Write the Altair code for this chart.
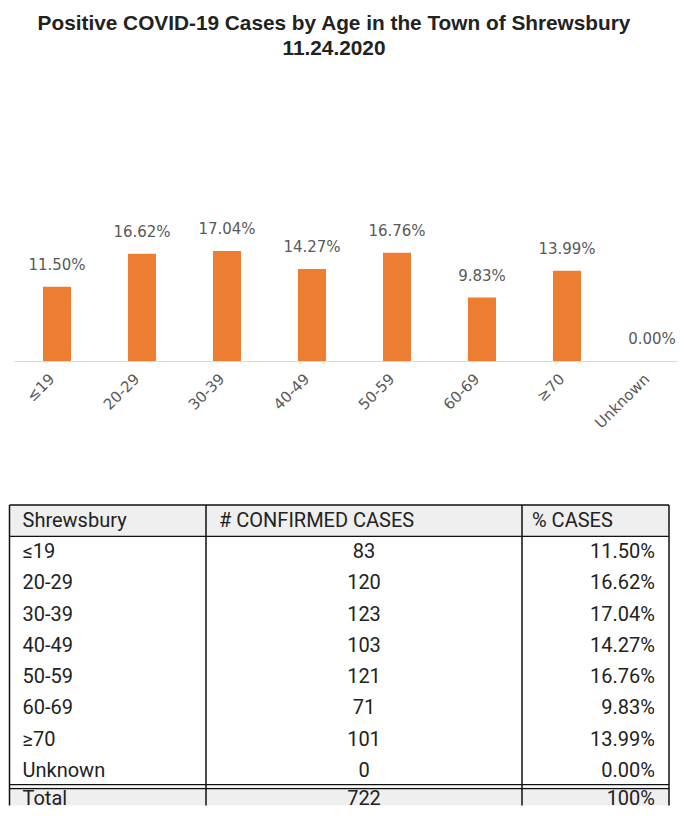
import altair as alt
import pandas as pd

# ---------------- data ----------------
TITLE_LINES = ["Positive COVID-19 Cases by Age in the Town of Shrewsbury", "11.24.2020"]
AGE_GROUPS = ["≤19", "20-29", "30-39", "40-49", "50-59", "60-69", "≥70", "Unknown"]
CONFIRMED = [83, 120, 123, 103, 121, 71, 101, 0]
PCT_CASES = [11.50, 16.62, 17.04, 14.27, 16.76, 9.83, 13.99, 0.00]
TABLE_HEADER = ["Shrewsbury", "# CONFIRMED CASES", "% CASES"]
TOTAL_ROW = ["Total", "722", "100%"]

# ---------------- layout / style constants ----------------
ORANGE = "#ED7D31"
GRAY_TXT = "#595959"
TABLE_TXT = "#222222"
CELL_BG = "#efefef"
LINE_COLOR = "#111111"
LABEL_FONT = "DejaVu Sans"

AXIS_GUTTER = 6
BAR_PLOT_W = 664
PX_PER_PCT = 6.455
Y_MAX = 22
BAR_PLOT_H = Y_MAX * PX_PER_PCT

TABLE_W = 662
COL_EDGES = [1.5, 198, 514, 661]
CELL_PAD = 13
ROW_H = 31.3
ROWS_VISIBLE = 9.6
TOTAL_TEXT_ROW = 9.38
DOUBLE_GAP = 0.064

# ---------------- bar chart ----------------
bar_df = pd.DataFrame({
    "age": AGE_GROUPS,
    "pct": PCT_CASES,
    "label": [f"{v:.2f}%" for v in PCT_CASES],
})

base = alt.Chart(bar_df).encode(
    x=alt.X(
        "age:N", sort=AGE_GROUPS,
        scale=alt.Scale(paddingInner=0.67, paddingOuter=0.241, align=0.707),
        axis=alt.Axis(title=None, labelAngle=-45, labelFont=LABEL_FONT, labelFontSize=15,
                      labelColor=GRAY_TXT, domainColor="#d9d9d9", domainWidth=1,
                      ticks=False, labelPadding=10, labelOffset=-10),
    ),
    y=alt.Y(
        "pct:Q",
        scale=alt.Scale(domain=[0, Y_MAX], nice=False),
        axis=alt.Axis(title=None, labels=False, ticks=False, domain=False, grid=False,
                      minExtent=AXIS_GUTTER, maxExtent=AXIS_GUTTER),
    ),
)
bars = base.mark_bar(color=ORANGE)
bar_labels = base.mark_text(baseline="bottom", dy=-14, font=LABEL_FONT, fontSize=15,
                            color=GRAY_TXT).encode(text="label:N")
bar_chart = (bars + bar_labels).properties(width=BAR_PLOT_W, height=BAR_PLOT_H)

# ---------------- table ----------------
first_col = [TABLE_HEADER[0]] + AGE_GROUPS + [TOTAL_ROW[0]]
col2_vals = [str(v) for v in CONFIRMED] + [TOTAL_ROW[1]]
col3_vals = [f"{v:.2f}%" for v in PCT_CASES] + [TOTAL_ROW[2]]
n_rows = len(first_col)


def row_center(i):
    return TOTAL_TEXT_ROW if i == n_rows - 1 else i + 0.5


cells = []
for i, t in enumerate(first_col):
    cells.append({"row": row_center(i), "x": COL_EDGES[0] + CELL_PAD, "text": t, "al": "left"})
cells.append({"row": 0.5, "x": COL_EDGES[1] + CELL_PAD, "text": TABLE_HEADER[1], "al": "left"})
cells.append({"row": 0.5, "x": COL_EDGES[2] + CELL_PAD - 3, "text": TABLE_HEADER[2], "al": "left"})
for i, t in enumerate(col2_vals):
    cells.append({"row": row_center(i + 1), "x": (COL_EDGES[1] + COL_EDGES[2]) / 2,
                  "text": t, "al": "center"})
for i, t in enumerate(col3_vals):
    cells.append({"row": row_center(i + 1), "x": COL_EDGES[3] - CELL_PAD - 1,
                  "text": t, "al": "right"})
cells_df = pd.DataFrame(cells)

# the table's origin sits AXIS_GUTTER px right of the page edge (aligned with the bar plot)
xs = alt.Scale(domain=[AXIS_GUTTER, TABLE_W + AXIS_GUTTER], nice=False, zero=False)
ys = alt.Scale(domain=[0, ROWS_VISIBLE], nice=False, zero=False, reverse=True)

bg_df = pd.DataFrame({
    "x1": [COL_EDGES[0], COL_EDGES[0]], "x2": [COL_EDGES[3], COL_EDGES[3]],
    "y1": [0, n_rows - 1], "y2": [1, ROWS_VISIBLE],
})
bg = alt.Chart(bg_df).mark_rect(color=CELL_BG).encode(
    x=alt.X("x1:Q", scale=xs, axis=None), x2="x2:Q",
    y=alt.Y("y1:Q", scale=ys, axis=None), y2="y2:Q",
)

vrule_df = pd.DataFrame({"x": COL_EDGES, "y1": [0] * 4, "y2": [ROWS_VISIBLE] * 4})
vrules = alt.Chart(vrule_df).mark_rule(color=LINE_COLOR, strokeWidth=1.5).encode(
    x=alt.X("x:Q", scale=xs, axis=None),
    y=alt.Y("y1:Q", scale=ys, axis=None), y2="y2:Q",
)

hrule_df = pd.DataFrame({
    "y": [0, 1, n_rows - 1 - DOUBLE_GAP, n_rows - 1 + DOUBLE_GAP],
    "x1": [COL_EDGES[0]] * 4, "x2": [COL_EDGES[3]] * 4,
})
hrules = alt.Chart(hrule_df).mark_rule(color=LINE_COLOR, strokeWidth=1.3).encode(
    y=alt.Y("y:Q", scale=ys, axis=None),
    x=alt.X("x1:Q", scale=xs, axis=None), x2="x2:Q",
)


def text_layer(al):
    return alt.Chart(cells_df).transform_filter(alt.datum.al == al).mark_text(
        align=al, baseline="middle", font="Roboto", fontSize=20, color=TABLE_TXT
    ).encode(
        x=alt.X("x:Q", scale=xs, axis=None),
        y=alt.Y("row:Q", scale=ys, axis=None),
        text="text:N",
    )


table_chart = alt.layer(
    bg, vrules, hrules, text_layer("left"), text_layer("center"), text_layer("right")
).properties(width=TABLE_W, height=ROWS_VISIBLE * ROW_H)

chart = alt.vconcat(
    bar_chart, table_chart, spacing=73,
    title=alt.TitleParams(TITLE_LINES, anchor="middle", font="Liberation Sans", fontSize=20.8,
                          fontWeight="bold", color="#222222", lineHeight=25, offset=159, dx=-9),
).configure_view(stroke=None).properties(
    padding={"top": 5, "left": 0, "right": 0, "bottom": 0}
)

chart.save("out.html", embed_options={"renderer": "svg", "actions": False})
